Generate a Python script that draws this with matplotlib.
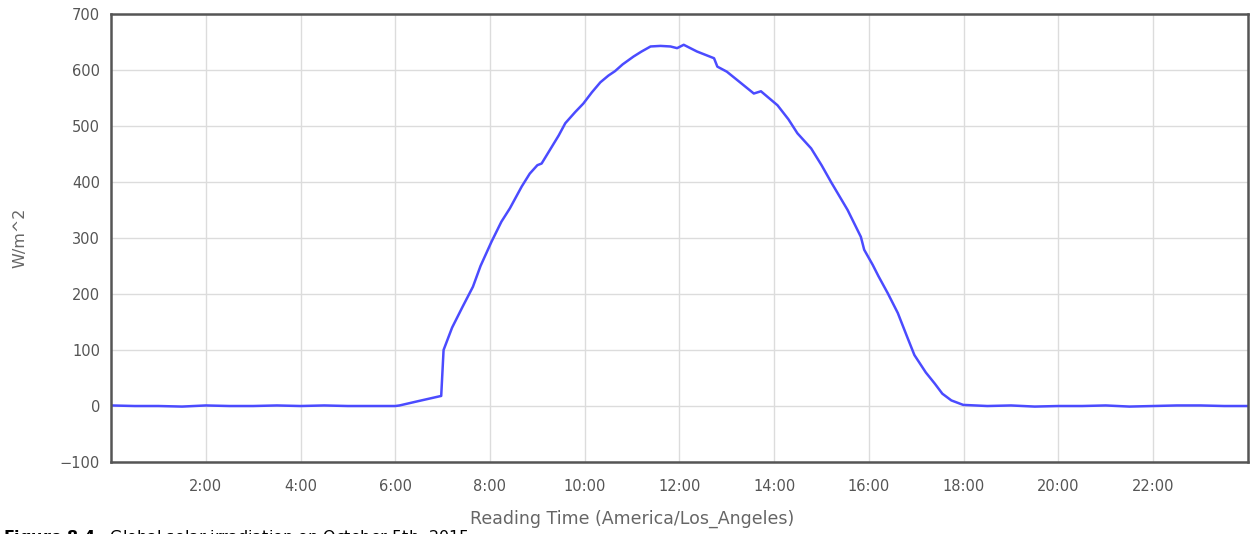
import matplotlib
matplotlib.use("Agg")
import matplotlib.pyplot as plt

# Reading time (hours since midnight) and global irradiance (W/m^2)
hours = [0.0, 0.5, 1.0, 1.5, 2.0, 2.5, 3.0, 3.5, 4.0, 4.5, 5.0, 5.5, 6.0,
         6.09, 6.5, 6.97, 7.02, 7.2, 7.42, 7.64, 7.8, 8.03, 8.24, 8.42, 8.67,
         8.84, 9.0, 9.09, 9.27, 9.45, 9.59, 9.8, 9.97, 10.15, 10.33, 10.5,
         10.64, 10.8, 11.03, 11.2, 11.39, 11.6, 11.81, 11.95, 12.09, 12.37,
         12.73, 12.80, 13.0, 13.22, 13.57, 13.72, 14.07, 14.3, 14.49, 14.78,
         15.0, 15.2, 15.55, 15.83, 15.9, 16.08, 16.2, 16.40, 16.61, 16.8,
         16.96, 17.2, 17.39, 17.55, 17.74, 17.99, 18.5, 19.0, 19.5, 20.0,
         20.5, 21.0, 21.5, 22.0, 22.5, 23.0, 23.5, 24.0]
irradiance = [1, 0, 0, -1, 1, 0, 0, 1, 0, 1, 0, 0, 0,
              1, 9, 18, 100, 140, 177, 213, 250, 293, 329, 353, 392,
              415, 430, 433, 458, 483, 505, 525, 540, 560, 578, 590,
              598, 610, 624, 633, 642, 643, 642, 639, 645, 633,
              621, 606, 597, 582, 558, 562, 537, 512, 487, 460,
              430, 400, 350, 302, 279, 252, 232, 201, 166, 125,
              91, 60, 40, 22, 10, 2, 0, 1, -1, 0,
              0, 1, -1, 0, 1, 1, 0, 0]

xtick_hours = [2, 4, 6, 8, 10, 12, 14, 16, 18, 20, 22]
xtick_labels = ["2:00", "4:00", "6:00", "8:00", "10:00", "12:00",
                "14:00", "16:00", "18:00", "20:00", "22:00"]
yticks = [-100, 0, 100, 200, 300, 400, 500, 600, 700]

fig = plt.figure(figsize=(12.52, 5.34), dpi=100)
ax = fig.add_axes([0.0887, 0.1348, 0.908, 0.839])

ax.plot(hours, irradiance, color="#4b4bff", linewidth=1.8,
        solid_joinstyle="round")

ax.set_xlim(0, 24)
ax.set_ylim(-100, 700)
ax.set_xticks(xtick_hours)
ax.set_xticklabels(xtick_labels)
ax.set_yticks(yticks)
ax.set_yticklabels(["\u2212100"] + [str(v) for v in yticks[1:]])

ax.grid(True, color="#dcdcdc", linewidth=1.0)
ax.set_axisbelow(True)
for s in ax.spines.values():
    s.set_color("#555555")
    s.set_linewidth(1.8)

ax.tick_params(axis="both", length=0, colors="#555555", labelsize=10.5)
ax.tick_params(axis="x", pad=12)
ax.tick_params(axis="y", pad=8)

fig.text(0.505, 1 - 519 / 534, "Reading Time (America/Los_Angeles)",
         ha="center", va="center", fontsize=12.5, color="#666666")
fig.text(20 / 1252, 1 - 238 / 534, "W/m^2", rotation=90,
         ha="center", va="center", fontsize=11.5, color="#666666")

fig.text(0.002, 1 - 528 / 534,
         r"$\bf{Figure\ 8.4}$   Global solar irradiation on October 5th, 2015",
         ha="left", va="top", fontsize=11.5, color="black")

fig.savefig("out.png", dpi=100, facecolor="white")
